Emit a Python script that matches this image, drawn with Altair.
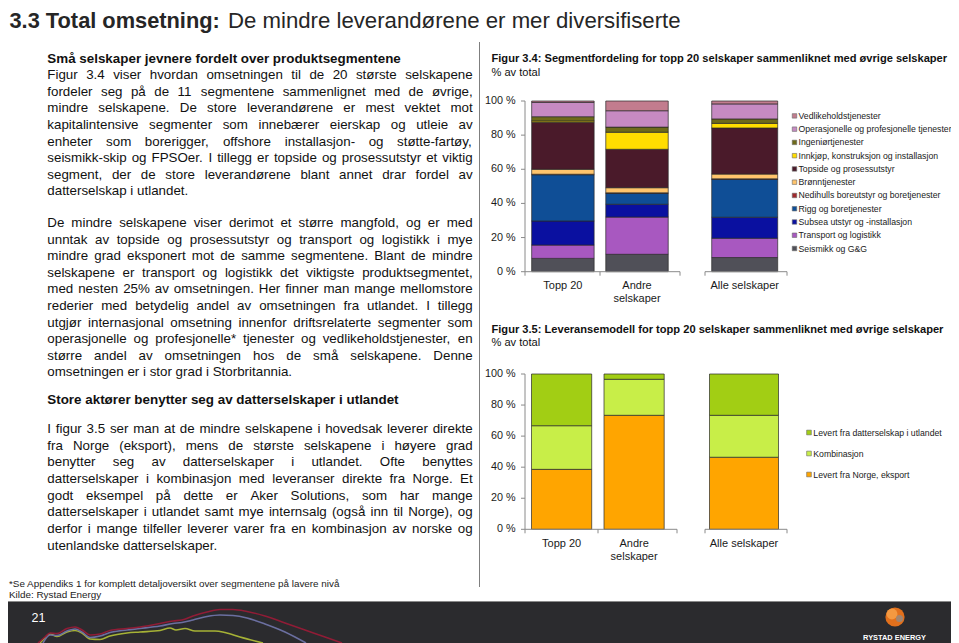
import altair as alt
import pandas as pd

# ---------------------------------------------------------------- values
page_title_bold = "3.3 Total omsetning:"
page_title_rest = "De mindre leverandørene er mer diversifiserte"

heading_1 = "Små selskaper jevnere fordelt over produktsegmentene"
paragraph_1 = [
    "Figur 3.4 viser hvordan omsetningen til de 20 største selskapene",
    "fordeler seg på de 11 segmentene sammenlignet med de øvrige,",
    "mindre selskapene. De store leverandørene er mest vektet mot",
    "kapitalintensive segmenter som innebærer eierskap og utleie av",
    "enheter som borerigger, offshore installasjon- og støtte-fartøy,",
    "seismikk-skip og FPSOer. I tillegg er topside og prosessutstyr et viktig",
    "segment, der de store leverandørene blant annet drar fordel av",
    "datterselskap i utlandet.",
]
paragraph_2 = [
    "De mindre selskapene viser derimot et større mangfold, og er med",
    "unntak av topside og prosessutstyr og transport og logistikk i mye",
    "mindre grad eksponert mot de samme segmentene. Blant de mindre",
    "selskapene er transport og logistikk det viktigste produktsegmentet,",
    "med nesten 25% av omsetningen. Her finner man mange mellomstore",
    "rederier med betydelig andel av omsetningen fra utlandet. I tillegg",
    "utgjør internasjonal omsetning innenfor driftsrelaterte segmenter som",
    "operasjonelle og profesjonelle* tjenester og vedlikeholdstjenester, en",
    "større andel av omsetningen hos de små selskapene. Denne",
    "omsetningen er i stor grad i Storbritannia.",
]
heading_2 = "Store aktører benytter seg av datterselskaper i utlandet"
paragraph_3 = [
    "I figur 3.5 ser man at de mindre selskapene i hovedsak leverer direkte",
    "fra Norge (eksport), mens de største selskapene i høyere grad",
    "benytter seg av datterselskaper i utlandet. Ofte benyttes",
    "datterselskaper i kombinasjon med leveranser direkte fra Norge. Et",
    "godt eksempel på dette er Aker Solutions, som har mange",
    "datterselskaper i utlandet samt mye internsalg (også inn til Norge), og",
    "derfor i mange tilfeller leverer varer fra en kombinasjon av norske og",
    "utenlandske datterselskaper.",
]
footnote_lines = [
    "*Se Appendiks 1 for komplett detaljoversikt over segmentene på lavere nivå",
    "Kilde: Rystad Energy",
]
page_number = "21"
logo_text = "RYSTAD ENERGY"

fig34_title = "Figur 3.4: Segmentfordeling for topp 20 selskaper sammenliknet med øvrige selskaper"
fig35_title = "Figur 3.5: Leveransemodell for topp 20 selskaper sammenliknet med  øvrige selskaper"
unit_label = "% av total"

groups = ["Topp 20", "Andre selskaper", "Alle selskaper"]
group_labels = ["Topp 20", "Andre\nselskaper", "Alle selskaper"]

segments = [
    "Seismikk og G&G",
    "Transport og logistikk",
    "Subsea utstyr og -installasjon",
    "Rigg og boretjenester",
    "Nedihulls boreutstyr og boretjenester",
    "Brønntjenester",
    "Topside og prosessutstyr",
    "Innkjøp, konstruksjon og installasjon",
    "Ingeniørtjenester",
    "Operasjonelle og profesjonelle tjenester",
    "Vedlikeholdstjenester",
]
seg_topp20 = [7.8, 7.8, 14.1, 27.1, 0.3, 2.9, 27.5, 0.8, 2.5, 8.4, 0.8]
seg_andre = [10.2, 21.8, 7.5, 6.4, 0.3, 3.0, 22.5, 10.0, 3.0, 9.6, 5.7]
seg_alle = [8.3, 11.3, 12.3, 22.2, 0.3, 2.8, 27.0, 2.7, 2.6, 8.8, 1.7]
seg_colors = ["#505058", "#A858C0", "#0A10A0", "#0F4E96", "#A0282C", "#FFC46C",
              "#4A1A2A", "#FFDD00", "#6E6A1A", "#C68AC2", "#C27C8E"]

models = ["Levert fra Norge, eksport", "Kombinasjon", "Levert fra datterselskap i utlandet"]
mod_topp20 = [38.6, 28.1, 33.3]
mod_andre = [73.4, 23.2, 3.4]
mod_alle = [46.4, 27.0, 26.6]
mod_colors = ["#FFA500", "#C8EE48", "#A2CE14"]

y_ticks = [0, 20, 40, 60, 80, 100]
y_tick_labels = ["0 %", "20 %", "40 %", "60 %", "80 %", "100 %"]

# decorative production curves in the footer (x, height above bottom edge)
red_x = [38, 45, 50, 57, 67, 75, 82, 90, 100, 110, 127, 140, 160, 173, 182, 193, 207, 220, 233, 247, 265, 285, 305, 325, 342]
red_h = [0, 6, 10, 9.5, 14.5, 16, 13, 8, 9, 12.5, 14.5, 16, 19.5, 22, 23, 27, 31, 33.5, 33.5, 31.5, 27, 20, 13, 6, 0]
blue_x = [43, 50, 57, 67, 75, 82, 90, 100, 110, 127, 140, 160, 173, 182, 193, 207, 220, 233, 247, 265, 285, 306]
blue_h = [0, 8, 7.5, 12, 14, 11, 5.5, 7, 10.5, 13, 14.5, 17, 19.5, 20.5, 23, 26.5, 28, 27.5, 25, 19, 11, 0]
olive_x = [40, 45, 50, 57, 67, 75, 82, 90, 100, 110, 127, 140, 160, 170, 176, 185, 195, 215, 225, 240, 263]
olive_h = [0, 5, 9, 6.5, 11, 12.5, 10, 4, 3.5, 7, 10, 11, 12.5, 15, 13, 14.5, 12, 12, 10.5, 6, 0]

# ---------------------------------------------------------------- layout helpers
OX, OY = 8, 8
W, H = 943, 635


def px(v):
    return v - OX


def py(v):
    return v - OY


SANS = "Liberation Sans, Arial, Helvetica, sans-serif"
INK = "#111111"

AW = {' ': 278, '!': 278, '%': 889, '&': 667, '(': 333, ')': 333, '*': 389, ',': 278, '-': 333,
      '.': 278, '/': 278, ':': 278, ';': 278,
      'A': 667, 'B': 667, 'C': 722, 'D': 722, 'E': 667, 'F': 611, 'G': 778, 'H': 722, 'I': 278,
      'J': 500, 'K': 667, 'L': 556, 'M': 833, 'N': 722, 'O': 778, 'P': 667, 'Q': 778, 'R': 722,
      'S': 667, 'T': 611, 'U': 722, 'V': 667, 'W': 944, 'X': 667, 'Y': 667, 'Z': 611,
      'a': 556, 'b': 556, 'c': 500, 'd': 556, 'e': 556, 'f': 278, 'g': 556, 'h': 556, 'i': 222,
      'j': 222, 'k': 500, 'l': 222, 'm': 833, 'n': 556, 'o': 556, 'p': 556, 'q': 556, 'r': 333,
      's': 500, 't': 278, 'u': 556, 'v': 500, 'w': 722, 'x': 500, 'y': 500, 'z': 500,
      'ø': 611, 'å': 556, 'æ': 889}


def tw(s, size):
    return sum(AW.get(c, 556) for c in s) * size / 1000.0


BODY_SIZE = 13.35
TX0, TX1 = 47.3, 472.7


def justify(lines, y0, lh):
    rows = []
    for k, line in enumerate(lines):
        y = y0 + k * lh
        words = line.split(" ")
        if k == len(lines) - 1 or len(words) == 1:
            rows.append(dict(x=px(TX0), y=py(y), t=line))
            continue
        ws = [tw(w, BODY_SIZE) for w in words]
        gap = (TX1 - TX0 - sum(ws)) / (len(words) - 1)
        x = TX0
        for w, wd in zip(words, ws):
            rows.append(dict(x=px(x), y=py(y), t=w))
            x += wd + gap
    return rows


one = pd.DataFrame({"k": [0]})


def pos_text(df, **kw):
    return alt.Chart(df).mark_text(align=kw.pop("align", "left"), baseline=kw.pop("baseline", "alphabetic"),
                                   **kw).encode(
        x=alt.X("x:Q", scale=None, axis=None),
        y=alt.Y("y:Q", scale=None, axis=None),
        text="t:N")


layers = []

# ---------------------------------------------------------------- footer
layers.append(alt.Chart(one).mark_rect(color="#2B2B2E").encode(
    x=alt.value(0), x2=alt.value(W), y=alt.value(py(601)), y2=alt.value(H)))
layers.append(alt.Chart(one).mark_rule(color="#8a8a8a", strokeWidth=1).encode(
    x=alt.value(0), x2=alt.value(W), y=alt.value(py(601.5))))

curve_rows = []
for name, xs, hs, col in [("olive", olive_x, olive_h, "#A6B236"),
                          ("blue", blue_x, blue_h, "#6B6FA0"),
                          ("red", red_x, red_h, "#901C36")]:
    for i, (xv, hv) in enumerate(zip(xs, hs)):
        curve_rows.append(dict(s=name, i=i, x=px(xv), y=py(643 - hv), col=col))
layers.append(alt.Chart(pd.DataFrame(curve_rows)).mark_line(strokeWidth=1.6, interpolate="monotone").encode(
    x=alt.X("x:Q", scale=None, axis=None),
    y=alt.Y("y:Q", scale=None, axis=None),
    color=alt.Color("col:N", scale=None),
    detail="s:N", order="i:Q"))

layers.append(pos_text(pd.DataFrame([dict(x=px(31.5), y=py(621.7), t=page_number)]),
                       font=SANS, fontSize=12.5, color="#ffffff"))
layers.append(alt.Chart(one).mark_circle(size=370, opacity=1, color="#E2701C").encode(
    x=alt.value(px(895)), y=alt.value(py(617))))
layers.append(alt.Chart(one).mark_circle(size=120, opacity=0.85, color="#F7A048").encode(
    x=alt.value(px(892)), y=alt.value(py(614))))
layers.append(alt.Chart(one).mark_circle(size=50, opacity=0.75, color="#8C8C8C").encode(
    x=alt.value(px(899.5)), y=alt.value(py(618.5))))
layers.append(pos_text(pd.DataFrame([dict(x=px(894.5), y=py(639.5), t=logo_text)]),
                       font=SANS, fontSize=7.4, fontWeight="bold", color="#ffffff", align="center"))

# ---------------------------------------------------------------- divider + title
layers.append(alt.Chart(one).mark_rule(color="#7f7f7f", strokeWidth=1).encode(
    x=alt.value(px(479.5)), y=alt.value(py(42)), y2=alt.value(py(587))))
layers.append(pos_text(pd.DataFrame([dict(x=px(9.5), y=py(28.3), t=page_title_bold)]),
                       font=SANS, fontSize=21.8, fontWeight="bold", color="#262626"))
layers.append(pos_text(pd.DataFrame([dict(x=px(228.0), y=py(28.3), t=page_title_rest)]),
                       font=SANS, fontSize=22.2, color="#262626"))

# ---------------------------------------------------------------- left text column
heads = pd.DataFrame([dict(x=px(TX0), y=py(62.5), t=heading_1),
                      dict(x=px(TX0), y=py(403.5), t=heading_2)])
layers.append(pos_text(heads, font=SANS, fontSize=13.4, fontWeight="bold", color=INK))
body = justify(paragraph_1, 79.2, 16.6) + justify(paragraph_2, 227.2, 16.55) + justify(paragraph_3, 433.0, 16.65)
layers.append(pos_text(pd.DataFrame(body), font=SANS, fontSize=BODY_SIZE, color=INK))

foot = pd.DataFrame([dict(x=px(9), y=py(586.7), t=footnote_lines[0]),
                     dict(x=px(9), y=py(598), t=footnote_lines[1])])
layers.append(pos_text(foot, font=SANS, fontSize=9.9, color="#222222"))

# ---------------------------------------------------------------- figure titles
ftitles = pd.DataFrame([dict(x=px(491.5), y=py(62.3), t=fig34_title),
                        dict(x=px(491.5), y=py(333.0), t=fig35_title)])
layers.append(pos_text(ftitles, font=SANS, fontSize=11.1, fontWeight="bold", color=INK))
fsub = pd.DataFrame([dict(x=px(491.5), y=py(75.6), t=unit_label),
                     dict(x=px(491.5), y=py(345.7), t=unit_label)])
layers.append(pos_text(fsub, font=SANS, fontSize=11.1, color=INK))


# ---------------------------------------------------------------- stacked bar figures
def make_figure(names, colors, by_group, geo):
    yscale = alt.Scale(domain=[0, 100], range=[py(geo["y0"]), py(geo["y1"])], nice=False, zero=False)
    cscale = alt.Scale(domain=names, range=colors)
    rows = []
    for g in groups:
        for i, (n, v) in enumerate(zip(names, by_group[g])):
            rows.append(dict(group=g, segment=n, value=v, idx=i))
    df = pd.DataFrame(rows)
    lab = pd.DataFrame({"group": groups, "label": group_labels})
    out = []
    for dom, rng, pi in [(groups[:2], geo["left_range"], geo["left_pi"]),
                         (groups[2:], geo["right_range"], geo["right_pi"])]:
        xs = alt.Scale(domain=dom, range=[px(rng[0]), px(rng[1])], paddingInner=pi, paddingOuter=pi / 2)
        bars = alt.Chart(df[df.group.isin(dom)]).mark_bar(stroke="#2a2a2a", strokeWidth=0.7).encode(
            x=alt.X("group:N", scale=xs, axis=None),
            y=alt.Y("value:Q", stack="zero", scale=yscale, axis=None),
            color=alt.Color("segment:N", scale=cscale, legend=None),
            order=alt.Order("idx:Q", sort="ascending"))
        labels = alt.Chart(lab[lab.group.isin(dom)]).mark_text(
            font=SANS, fontSize=11, color="#1a1a1a", align="center", baseline="alphabetic",
            lineBreak="\n", lineHeight=13).encode(
            x=alt.X("group:N", scale=xs, axis=None),
            y=alt.value(py(geo["label_base"])),
            text="label:N")
        out.append(alt.layer(bars, labels))
    # y axis
    tdf = pd.DataFrame({"v": y_ticks, "lab": y_tick_labels})
    ax = geo["ax_x"]
    yt = alt.Chart(tdf).mark_rule(color="#8a8a8a", strokeWidth=1).encode(
        y=alt.Y("v:Q", scale=yscale, axis=None), x=alt.value(px(ax - 4)), x2=alt.value(px(ax)))
    yl = alt.Chart(tdf).mark_text(font=SANS, fontSize=10.8, color="#1a1a1a", align="right",
                                  baseline="middle").encode(
        y=alt.Y("v:Q", scale=yscale, axis=None), x=alt.value(px(ax - 9.3)), text="lab:N")
    span = pd.DataFrame({"lo": [0], "hi": [100]})
    yline = alt.Chart(span).mark_rule(color="#8a8a8a", strokeWidth=1).encode(
        y=alt.Y("lo:Q", scale=yscale, axis=None), y2="hi:Q", x=alt.value(px(ax)))
    axis_parts = [yt, yl, yline]
    for (a, b, ticks) in geo["xseg"]:
        axis_parts.append(alt.Chart(span).mark_rule(color="#8a8a8a", strokeWidth=1).encode(
            y=alt.Y("lo:Q", scale=yscale, axis=None), x=alt.value(px(a)), x2=alt.value(px(b))))
        for t in ticks:
            axis_parts.append(alt.Chart(span).mark_rule(color="#8a8a8a", strokeWidth=1).encode(
                y=alt.Y("lo:Q", scale=yscale, axis=None), y2=alt.value(py(geo["y0"] + 4)),
                x=alt.value(px(t))))
    out.append(alt.layer(*axis_parts))
    # legend (top entry = last segment)
    leg_names = list(reversed(names))
    leg = pd.DataFrame({"segment": leg_names, "r": list(range(len(leg_names)))})
    n = len(leg_names)
    lys = alt.Scale(domain=[0, n - 1],
                    range=[py(geo["leg_y0"]), py(geo["leg_y0"] + (n - 1) * geo["leg_dy"])])
    sq = alt.Chart(leg).mark_square(size=geo["leg_size"], stroke="#6a6a6a", strokeWidth=0.6, opacity=1).encode(
        x=alt.value(px(geo["leg_x"])),
        y=alt.Y("r:Q", scale=lys, axis=None),
        color=alt.Color("segment:N", scale=cscale, legend=None))
    lt = alt.Chart(leg).mark_text(font=SANS, fontSize=geo["leg_font"], color="#1a1a1a", align="left",
                                  baseline="middle").encode(
        x=alt.value(px(geo["leg_tx"])),
        y=alt.Y("r:Q", scale=lys, axis=None),
        text="segment:N")
    out.append(alt.layer(sq, lt))
    return out


geo34 = dict(y0=271.7, y1=101.0, left_range=(525.85, 674.05), left_pi=0.157,
             right_range=(705.0, 784.4), right_pi=0.169, label_base=288.5, ax_x=525.0,
             xseg=[(525, 680, [525, 600, 680]), (705, 787, [705, 787])],
             leg_x=794.5, leg_tx=798.5, leg_y0=115.9, leg_dy=13.26, leg_size=20, leg_font=8.7)
geo35 = dict(y0=529.3, y1=374.0, left_range=(525.35, 670.35), left_pi=0.17,
             right_range=(704.0, 784.0), right_pi=0.1375, label_base=546.9, ax_x=525.0,
             xseg=[(525, 677, [525, 598, 677]), (705, 787, [705, 787])],
             leg_x=809.0, leg_tx=813.3, leg_y0=432.5, leg_dy=21.0, leg_size=22, leg_font=8.7)

layers += make_figure(segments, seg_colors,
                      {"Topp 20": seg_topp20, "Andre selskaper": seg_andre, "Alle selskaper": seg_alle}, geo34)
layers += make_figure(models, mod_colors,
                      {"Topp 20": mod_topp20, "Andre selskaper": mod_andre, "Alle selskaper": mod_alle}, geo35)

chart = alt.layer(*layers).resolve_scale(
    x="independent", y="independent", color="independent"
).properties(
    width=W, height=H, padding=0, background="#ffffff",
    autosize=alt.AutoSizeParams(type="none"),
).configure_view(stroke=None)

chart.save("out.html", embed_options={"renderer": "svg", "actions": False})
